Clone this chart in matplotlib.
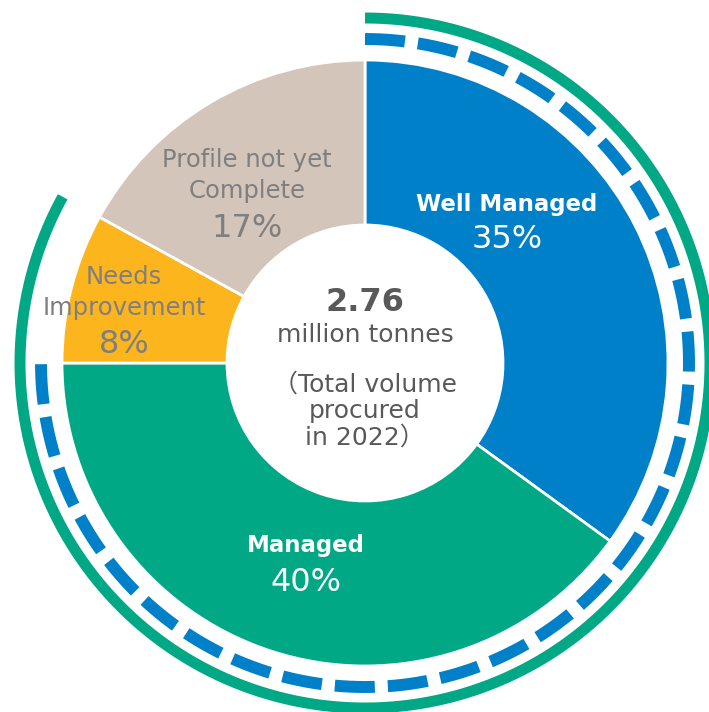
import numpy as np
import matplotlib.pyplot as plt

plt.rcParams['font.family'] = ['DejaVu Sans', 'Noto Sans CJK JP']
plt.rcParams['lines.scale_dashes'] = False

# parts du volume achete, dans le sens des aiguilles d'une montre depuis midi
categories = ["Well Managed", "Managed", "Needs\nImprovement", "Profile not yet\nComplete"]
shares = [35, 40, 8, 17]
colors = ["#0080C8", "#00A886", "#FDB51E", "#D4C5BB"]
label_colors = ["white", "white", "#7F7F7F", "#7F7F7F"]
total = "2.76"
total_unit = "million tonnes"
total_note = "（Total volume\nprocured\nin 2022）"

W, H = 709, 712
cx, cy = 365, H - 363  # centre du donut (en pixels)
R, r_hole = 303, 138

fig = plt.figure(figsize=(W / 100, H / 100), dpi=100)
ax = fig.add_axes([0, 0, 1, 1])

wedges, _ = ax.pie(shares, colors=colors, startangle=90, counterclock=False,
                   center=(cx, cy), radius=R,
                   wedgeprops=dict(width=R - r_hole, edgecolor="white", linewidth=2))

ax.set_xlim(0, W)
ax.set_ylim(0, H)
ax.axis("off")


def arc(frac_end, radius, **kw):
    # arc exterieur de midi jusqu'a la part cumulee frac_end
    t = np.radians(90 - 360 * np.linspace(0, frac_end, 400))
    ax.plot(cx + radius * np.cos(t), cy + radius * np.sin(t), **kw)


cum = np.cumsum(shares) / sum(shares)
arc(cum[1], 324, color=colors[0], lw=8.6, linestyle=(0, (28.8, 9.4)),
    dash_capstyle="butt")
arc(cum[2], 345, color=colors[1], lw=7.9, solid_capstyle="butt")

# etiquettes des secteurs
lab_pos = [(507, 211, 248), (306, 552, 591), (124, 315, 353), (247, 198, 237)]
for name, s, c, (x, yb, yp) in zip(categories, shares, label_colors, lab_pos):
    bold = c == "white"
    ax.text(x, H - yb, name, ha="center", va="baseline", color=c,
            fontsize=16.5 if bold else 17.5, fontweight="bold" if bold else "normal",
            linespacing=1.35)
    ax.text(x, H - yp, f"{s}%", ha="center", va="baseline", color=c, fontsize=23)

# texte central
ax.text(cx, H - 311, total, ha="center", va="baseline", color="#595959",
        fontsize=23, fontweight="bold")
ax.text(cx, H - 342, total_unit, ha="center", va="baseline", color="#595959",
        fontsize=18)
ax.text(cx, H - 445, total_note, ha="center", va="baseline", color="#595959",
        fontsize=18, linespacing=1.15)

fig.savefig("out.png", dpi=100)
